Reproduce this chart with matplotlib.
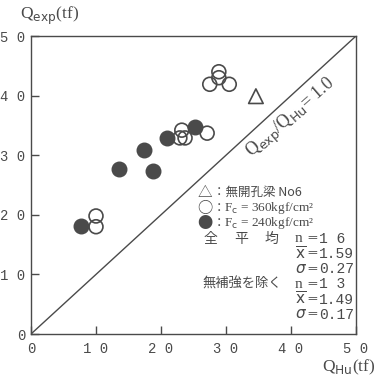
import matplotlib
matplotlib.use("Agg")
import matplotlib.pyplot as plt

# Shear strength: experiment vs. calculation (tf)
fc240_calc = [7.7, 13.5, 17.4, 18.8, 20.9, 25.2]
fc240_exp = [18.1, 27.7, 30.9, 27.3, 32.9, 34.7]

fc360_calc = [10.0, 10.0, 23.2, 22.9, 23.7, 27.1, 28.9, 28.9, 27.5, 30.5]
fc360_exp = [19.8, 18.0, 34.2, 32.9, 32.9, 33.7, 44.0, 43.0, 41.9, 41.9]

solid_calc = [34.6]
solid_exp = [39.9]

ticks = [0, 10, 20, 30, 40, 50]
tick_labels = ["0", "1 0", "2 0", "3 0", "4 0", "5 0"]

# summary statistics: all specimens / excluding unreinforced
stat_names = ["n", r"$\overline{\rm x}$", r"$\sigma$",
              "n", r"$\overline{\rm x}$", r"$\sigma$"]
stat_values = ["1 6", "1.59", "0.27", "1 3", "1.49", "0.17"]

INK = "#4a4a4a"
CJK = ["Noto Sans CJK JP", "DejaVu Sans"]
MONO = ["Liberation Mono", "DejaVu Sans Mono"]
SERIF = ["Liberation Serif", "DejaVu Serif"]

fig = plt.figure(figsize=(3.76, 3.77), dpi=100)
ax = fig.add_axes([31 / 376, 1 - 334 / 377, 325 / 376, 298 / 377])
ax.set_xlim(0, 50)
ax.set_ylim(0, 50)

for s in ax.spines.values():
    s.set_color(INK)
    s.set_linewidth(1.0)

ax.set_xticks(ticks)
ax.set_yticks(ticks)
ax.set_xticklabels(tick_labels, family=MONO, fontsize=10, color=INK)
ax.set_yticklabels(tick_labels, family=MONO, fontsize=10, color=INK)
ax.tick_params(direction="in", length=6, width=1.0, color=INK, pad=4)
ax.tick_params(axis="x", pad=6)

# Line of Qexp/QHu = 1.0
ax.plot([0, 50], [0, 50], color=INK, lw=1.0, zorder=2)
ax.text(40.0, 36.2, r"Q$_{\rm exp}$/Q$_{\rm Hu}$= 1.0", rotation=41,
        rotation_mode="anchor", ha="center", va="center",
        fontsize=13, color=INK, family=SERIF)

ax.scatter(fc240_calc, fc240_exp, s=110, color=INK, edgecolors=INK,
           linewidths=1.0, zorder=3)
ax.scatter(fc360_calc, fc360_exp, s=100, facecolors="none", edgecolors=INK,
           linewidths=1.2, zorder=4)
ax.scatter(solid_calc, solid_exp, s=110, marker="^", facecolors="none",
           edgecolors=INK, linewidths=1.2, zorder=4)

# Axis titles
fig.text(20 / 376, 1 - 16 / 377, r"Q$_{\rm exp}$(tf)", ha="left", va="center",
         fontsize=12.5, color=INK, family=SERIF)
fig.text(375 / 376, 1 - 367 / 377, r"Q$_{\rm Hu}$(tf)", ha="right", va="center",
         fontsize=12.5, color=INK, family=SERIF)

# Legend and statistics block (positions in data units)
y0 = 23.7
dy = 2.56
x_sym = 25.6
x_txt = 28.0
ax.text(x_sym, y0, "△", fontsize=10.5, family=CJK, color=INK,
        ha="left", va="center")
ax.text(x_txt, y0, "：無開孔梁 No6", fontsize=9, family=CJK, color=INK,
        ha="left", va="center")
ax.text(x_sym, y0 - dy, "○", fontsize=11, family=CJK, color=INK,
        ha="left", va="center")
ax.text(x_sym, y0 - 2 * dy, "●", fontsize=11, family=CJK, color=INK,
        ha="left", va="center")
for k, fc in ((1, "360"), (2, "240")):
    ax.text(x_txt, y0 - k * dy, "：", fontsize=9, family=CJK, color=INK,
            ha="left", va="center")
    ax.text(x_txt + 1.7, y0 - k * dy,
            r"F$_{\rm c}$ = " + fc + "kgf/cm²",
            fontsize=9.5, family=SERIF, color=INK, ha="left", va="center")

for x, ch in zip([26.5, 31.3, 36.0], "全平均"):
    ax.text(x, y0 - 3 * dy, ch, fontsize=10, family=CJK, color=INK,
            ha="left", va="center")
ax.text(26.3, y0 - 6 * dy, "無補強を除く", fontsize=9.5, family=CJK, color=INK,
        ha="left", va="center")

for k, (name, val) in enumerate(zip(stat_names, stat_values), start=3):
    yk = y0 - k * dy
    ax.text(40.6, yk, name, fontsize=11, family=SERIF, color=INK,
            ha="left", va="center")
    ax.text(43.2, yk, "＝", fontsize=8.5, family=CJK, color=INK,
            ha="center", va="center")
    ax.text(44.3, yk, val, fontsize=10.5, family=MONO, color=INK,
            ha="left", va="center")

fig.savefig("out.png", dpi=100, facecolor="white")
